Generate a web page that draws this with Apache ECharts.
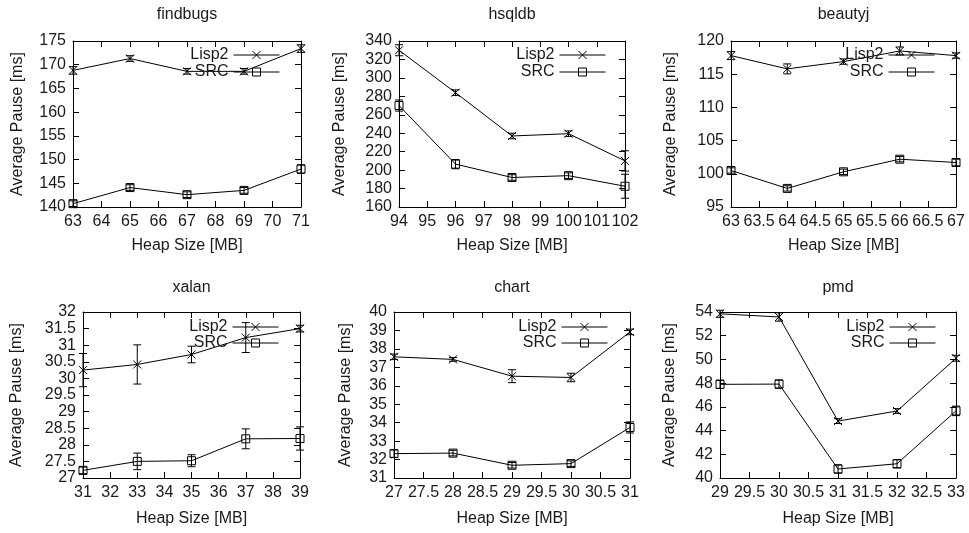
<!DOCTYPE html>
<html>
<head>
<meta charset="utf-8">
<script src="https://cdn.jsdelivr.net/npm/echarts@6/dist/echarts.min.js"></script>
<style>
html,body{margin:0;padding:0;background:#fff;}
#c{width:969px;height:533px;}
</style>
</head>
<body>
<div id="c"></div>
<script>
// ---- data ----
const findbugsHeap = [63, 65, 67, 69, 71];
const findbugsLisp2 = [168.8, 171.3, 168.6, 168.6, 173.4];
const findbugsLisp2Err = [0.8, 0.6, 0.6, 0.6, 0.8];
const findbugsSrc = [140.7, 144.1, 142.6, 143.5, 148.0];
const findbugsSrcErr = [0.6, 0.6, 0.6, 0.6, 0.9];
const findbugsXTicks = [63, 71, 1];
const findbugsYTicks = [140, 175, 5];

const hsqldbHeap = [94, 96, 98, 100, 102];
const hsqldbLisp2 = [330, 284, 237, 239.5, 210];
const hsqldbLisp2Err = [6, 3, 3, 3, 11];
const hsqldbSrc = [270, 206.5, 192, 194, 182.5];
const hsqldbSrcErr = [6, 5, 3, 3, 13];
const hsqldbXTicks = [94, 102, 1];
const hsqldbYTicks = [160, 340, 20];

const beautyjHeap = [63, 64, 65, 66, 67];
const beautyjLisp2 = [117.8, 115.8, 116.9, 118.5, 117.8];
const beautyjLisp2Err = [0.6, 0.75, 0.4, 0.6, 0.4];
const beautyjSrc = [100.5, 97.8, 100.3, 102.2, 101.7];
const beautyjSrcErr = [0.4, 0.4, 0.4, 0.4, 0.5];
const beautyjXTicks = [63, 67, 0.5];
const beautyjYTicks = [95, 120, 5];

const xalanHeap = [31, 33, 35, 37, 39];
const xalanLisp2 = [30.25, 30.42, 30.72, 31.23, 31.5];
const xalanLisp2Err = [0.5, 0.59, 0.25, 0.45, 0.1];
const xalanSrc = [27.23, 27.5, 27.52, 28.18, 28.19];
const xalanSrcErr = [0.1, 0.25, 0.18, 0.3, 0.35];
const xalanXTicks = [31, 39, 1];
const xalanYTicks = [27, 32, 0.5];

const chartHeap = [27, 28, 29, 30, 31];
const chartLisp2 = [37.57, 37.43, 36.52, 36.45, 38.92];
const chartLisp2Err = [0.15, 0.1, 0.35, 0.23, 0.15];
const chartSrc = [32.32, 32.35, 31.69, 31.78, 33.74];
const chartSrcErr = [0.2, 0.15, 0.15, 0.15, 0.3];
const chartXTicks = [27, 31, 0.5];
const chartYTicks = [31, 40, 1];

const pmdHeap = [29, 30, 31, 32, 33];
const pmdLisp2 = [53.85, 53.58, 44.8, 45.65, 50.1];
const pmdLisp2Err = [0.3, 0.35, 0.2, 0.2, 0.25];
const pmdSrc = [47.9, 47.92, 40.76, 41.2, 45.66];
const pmdSrcErr = [0.35, 0.35, 0.35, 0.35, 0.4];
const pmdXTicks = [29, 33, 0.5];
const pmdYTicks = [40, 54, 2];

const seriesNames = ['Lisp2', 'SRC'];
const xAxisTitle = 'Heap Size [MB]';
const yAxisTitle = 'Average Pause [ms]';

const panels = [
  {title: 'findbugs', heap: findbugsHeap, a: findbugsLisp2, ae: findbugsLisp2Err, b: findbugsSrc, be: findbugsSrcErr, xt: findbugsXTicks, yt: findbugsYTicks},
  {title: 'hsqldb', heap: hsqldbHeap, a: hsqldbLisp2, ae: hsqldbLisp2Err, b: hsqldbSrc, be: hsqldbSrcErr, xt: hsqldbXTicks, yt: hsqldbYTicks},
  {title: 'beautyj', heap: beautyjHeap, a: beautyjLisp2, ae: beautyjLisp2Err, b: beautyjSrc, be: beautyjSrcErr, xt: beautyjXTicks, yt: beautyjYTicks},
  {title: 'xalan', heap: xalanHeap, a: xalanLisp2, ae: xalanLisp2Err, b: xalanSrc, be: xalanSrcErr, xt: xalanXTicks, yt: xalanYTicks},
  {title: 'chart', heap: chartHeap, a: chartLisp2, ae: chartLisp2Err, b: chartSrc, be: chartSrcErr, xt: chartXTicks, yt: chartYTicks},
  {title: 'pmd', heap: pmdHeap, a: pmdLisp2, ae: pmdLisp2Err, b: pmdSrc, be: pmdSrcErr, xt: pmdXTicks, yt: pmdYTicks}
];

// ---- layout ----
const layout = [
  {l: 73,  t: 41,  w: 228, h: 166, yGap: 47, xGap: 31, legR: 689, legT: [47, 64],   titleY: 15},
  {l: 399, t: 41,  w: 226, h: 166, yGap: 51, xGap: 31, legR: 363, legT: [47, 64],   titleY: 15},
  {l: 731, t: 41,  w: 225, h: 166, yGap: 52, xGap: 31, legR: 34,  legT: [47, 64],   titleY: 15},
  {l: 83,  t: 312, w: 217, h: 166, yGap: 58, xGap: 33, legR: 690, legT: [319, 335], titleY: 288},
  {l: 394, t: 312, w: 236, h: 166, yGap: 40, xGap: 33, legR: 361, legT: [319, 335], titleY: 288},
  {l: 720, t: 312, w: 236, h: 166, yGap: 42, xGap: 33, legR: 33,  legT: [319, 335], titleY: 288}
];

const FONT = '"Liberation Sans", Arial, Helvetica, sans-serif';
const TXT = '#1a1a1a';
const X_SYM = 'path://M0,0L10,10M10,0L0,10';
const SQ_SYM = 'path://M0,0L10,0L10,10L0,10Z';

function errRender(params, api) {
  const x = api.value(0), y = api.value(1), e = api.value(2);
  const top = api.coord([x, y + e]);
  const bot = api.coord([x, y - e]);
  const w = 4;
  const st = {stroke: '#000', lineWidth: 1, fill: null};
  return {
    type: 'group',
    children: [
      {type: 'line', shape: {x1: top[0], y1: top[1], x2: bot[0], y2: bot[1]}, style: st},
      {type: 'line', shape: {x1: top[0] - w, y1: top[1], x2: top[0] + w, y2: top[1]}, style: st},
      {type: 'line', shape: {x1: bot[0] - w, y1: bot[1], x2: bot[0] + w, y2: bot[1]}, style: st}
    ]
  };
}

const grid = [], xAxis = [], yAxis = [], series = [], legend = [], graphic = [];
const lineAxis = {show: true, onZero: false, lineStyle: {color: '#000', width: 1}};
const tick = {show: true, inside: true, length: 6, lineStyle: {color: '#000', width: 1}};

panels.forEach((p, i) => {
  const L = layout[i];
  grid.push({left: L.l, top: L.t, width: L.w, height: L.h, containLabel: false, outerBoundsMode: 'none'});
  const xb = {gridIndex: i, type: 'value', min: p.xt[0], max: p.xt[1], interval: p.xt[2]};
  const yb = {gridIndex: i, type: 'value', min: p.yt[0], max: p.yt[1], interval: p.yt[2]};
  xAxis.push(Object.assign({}, xb, {
    position: 'bottom', axisLine: lineAxis, axisTick: tick, splitLine: {show: false},
    axisLabel: {show: true, fontSize: 16, color: TXT, fontFamily: FONT, margin: 7, hideOverlap: false, showMinLabel: true, showMaxLabel: true},
    name: xAxisTitle, nameLocation: 'middle', nameGap: L.xGap,
    nameTextStyle: {fontSize: 16, color: TXT, fontFamily: FONT}
  }));
  xAxis.push(Object.assign({}, xb, {
    position: 'top', axisLine: lineAxis, axisTick: tick, splitLine: {show: false}, axisLabel: {show: false}
  }));
  yAxis.push(Object.assign({}, yb, {
    position: 'left', axisLine: lineAxis, axisTick: tick, splitLine: {show: false},
    axisLabel: {show: true, fontSize: 16, color: TXT, fontFamily: FONT, margin: 7, hideOverlap: false, showMinLabel: true, showMaxLabel: true},
    name: yAxisTitle, nameLocation: 'middle', nameGap: L.yGap,
    nameTextStyle: {fontSize: 16, color: TXT, fontFamily: FONT}
  }));
  yAxis.push(Object.assign({}, yb, {
    position: 'right', axisLine: lineAxis, axisTick: tick, splitLine: {show: false}, axisLabel: {show: false}
  }));

  const sets = [[p.a, p.ae, X_SYM], [p.b, p.be, SQ_SYM]];
  sets.forEach((s, k) => {
    series.push({
      type: 'line', name: seriesNames[k], xAxisIndex: 2 * i, yAxisIndex: 2 * i,
      data: p.heap.map((x, j) => [x, s[0][j]]),
      symbol: s[2], symbolSize: 8, showAllSymbol: true, clip: false,
      lineStyle: {color: '#000', width: 1},
      itemStyle: {color: 'rgba(0,0,0,0)', borderColor: '#000', borderWidth: 1},
      emphasis: {disabled: true}, z: 3
    });
    series.push({
      type: 'custom', name: seriesNames[k] + ' err', xAxisIndex: 2 * i, yAxisIndex: 2 * i,
      data: p.heap.map((x, j) => [x, s[0][j], s[1][j]]),
      dimensions: ['x', 'y', 'e'], encode: {x: 0, y: 1},
      renderItem: errRender, clip: false, z: 4, silent: true
    });
    legend.push({
      data: [seriesNames[k]], right: L.legR, top: L.legT[k], orient: 'horizontal', align: 'right',
      itemWidth: 46, itemHeight: 10, itemGap: 0, padding: 0, selectedMode: false,
      lineStyle: {color: '#000', width: 1},
      itemStyle: {color: 'rgba(0,0,0,0)', borderColor: '#000', borderWidth: 1},
      textStyle: {fontSize: 16, color: TXT, fontFamily: FONT, padding: [0, 0, 0, 0]}
    });
  });

  graphic.push({
    type: 'text', x: L.l + L.w / 2, y: L.titleY,
    style: {text: p.title, fontSize: 16, fill: TXT, font: '16px ' + FONT, align: 'center', verticalAlign: 'middle'}
  });
});

const chart = echarts.init(document.getElementById('c'), null, {renderer: 'canvas'});
chart.setOption({
  animation: false,
  backgroundColor: '#fff',
  grid, xAxis, yAxis, series, legend, graphic
});
</script>
</body>
</html>
